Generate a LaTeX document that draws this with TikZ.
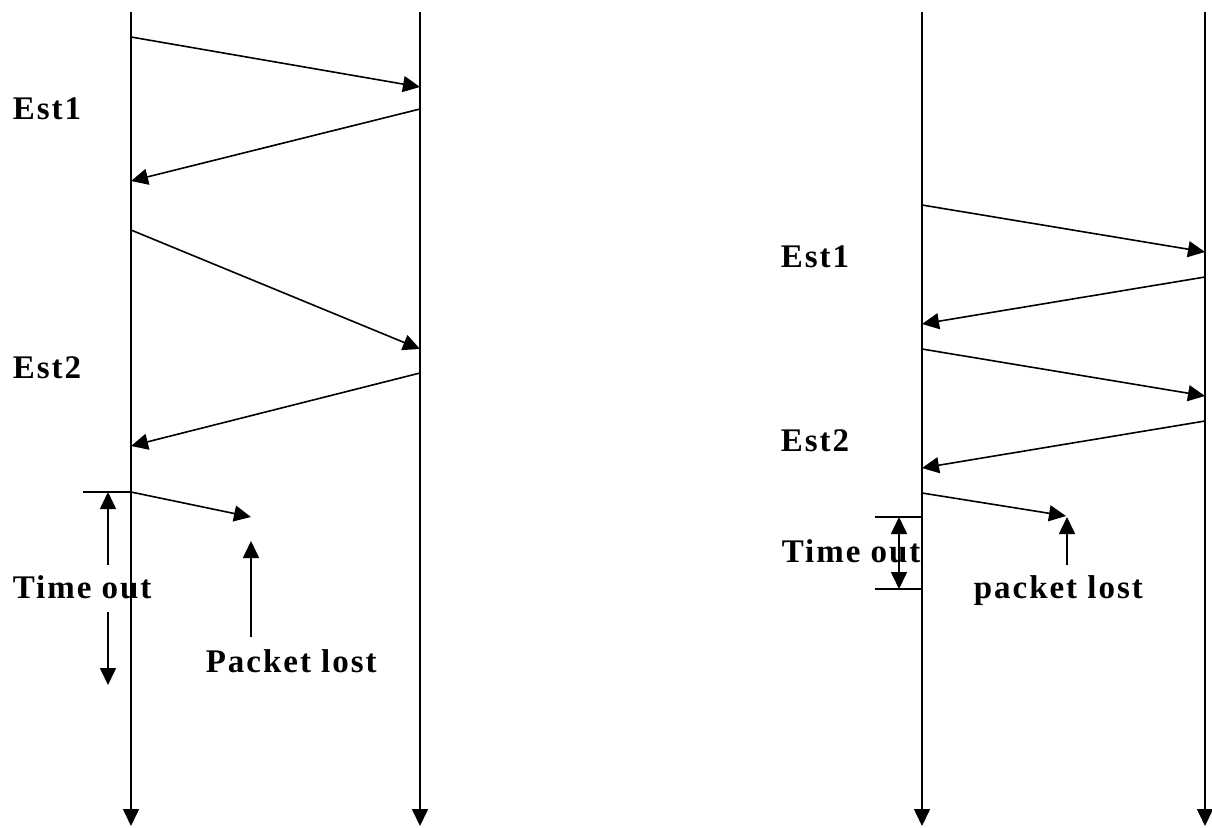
\documentclass[tikz,border=0pt]{standalone}
\usepackage{fontspec}
\newfontfamily\lblfont{Liberation Serif}[LetterSpace=6]
\usetikzlibrary{arrows.meta}
\tikzset{
  lbl/.style={font=\lblfont\fontsize{33}{40}\selectfont\bfseries, inner sep=0pt, anchor=base west},
  tip/.tip={Triangle[length=17pt,width=16pt]},
  msg/.style={-tip},
}
\begin{document}
\begin{tikzpicture}[x=1pt, y=-1pt, line width=1.6pt]
      \useasboundingbox (0,0) rectangle (1212,827);
      % left diagram
      \coordinate (a0) at (131,12);
      \coordinate (a1) at (131,826);
      \coordinate (b0) at (420,12);
      \coordinate (b1) at (420,826);
      \draw[msg] (a0) -- (a1);
      \draw[msg] (b0) -- (b1);
      \coordinate (p1) at (131,37);   \coordinate (q1) at (420,87);
      \coordinate (q2) at (420,109);  \coordinate (p2) at (131,181);
      \coordinate (p3) at (131,230);  \coordinate (q3) at (420,349);
      \coordinate (q4) at (420,373);  \coordinate (p4) at (131,446);
      \coordinate (p5) at (131,492);  \coordinate (lost) at (251,517);
      \begin{scope}[msg]
        \draw (p1) to (q1);
        \draw (q2) to (p2);
        \draw (p3) to (q3);
        \draw (q4) to (p4);
        \draw (p5) to (lost);
      \end{scope}
      \node[lbl] (est1) at (12,119) {Est1};
      \node[lbl] (est2) at (12,378) {Est2};
      \node[lbl] (tout) at (12,598) {Time out};
      \node[lbl] (plost) at (205,672) {Packet lost};
      \coordinate (t0) at (83,492);
      \coordinate (tu) at (108,492);
      \coordinate (tu0) at (108,565);
      \coordinate (td0) at (108,612);
      \coordinate (td) at (108,685);
      \coordinate (l0) at (251,637);
      \coordinate (l1) at (251,541);
      \draw (t0) -- (p5);
      \draw[msg] (tu0) -- (tu);
      \draw[msg] (td0) -- (td);
      \draw[msg] (l0) -- (l1);
      % right diagram
      \coordinate (c0) at (922,12);
      \coordinate (c1) at (922,826);
      \coordinate (d0) at (1205,12);
      \coordinate (d1) at (1205,826);
      \draw[msg] (c0) -- (c1);
      \draw[msg] (d0) -- (d1);
      \coordinate (r1) at (922,205);  \coordinate (s1) at (1205,252);
      \coordinate (s2) at (1205,277); \coordinate (r2) at (922,324);
      \coordinate (r3) at (922,349);  \coordinate (s3) at (1205,396);
      \coordinate (s4) at (1205,421); \coordinate (r4) at (922,468);
      \coordinate (r5) at (922,493);  \coordinate (lost2) at (1066,516);
      \begin{scope}[msg]
        \draw (r1) to (s1);
        \draw (s2) to (r2);
        \draw (r3) to (s3);
        \draw (s4) to (r4);
        \draw (r5) to (lost2);
      \end{scope}
      \node[lbl] (est1r) at (780,267) {Est1};
      \node[lbl] (est2r) at (780,451) {Est2};
      \node[lbl] (toutr) at (781,562) {Time out};
      \node[lbl] (plostr) at (973,598) {packet lost};
      \coordinate (u0) at (875,517);  \coordinate (u1) at (922,517);
      \coordinate (w0) at (875,589);  \coordinate (w1) at (922,589);
      \coordinate (uu) at (899,517);  \coordinate (ww) at (899,589);
      \coordinate (m0) at (1067,565); \coordinate (m1) at (1067,517);
      \draw (u0) -- (u1);
      \draw (w0) -- (w1);
      \draw[tip-tip] (uu) -- (ww);
      \draw[msg] (m0) -- (m1);
    \end{tikzpicture}
\end{document}
